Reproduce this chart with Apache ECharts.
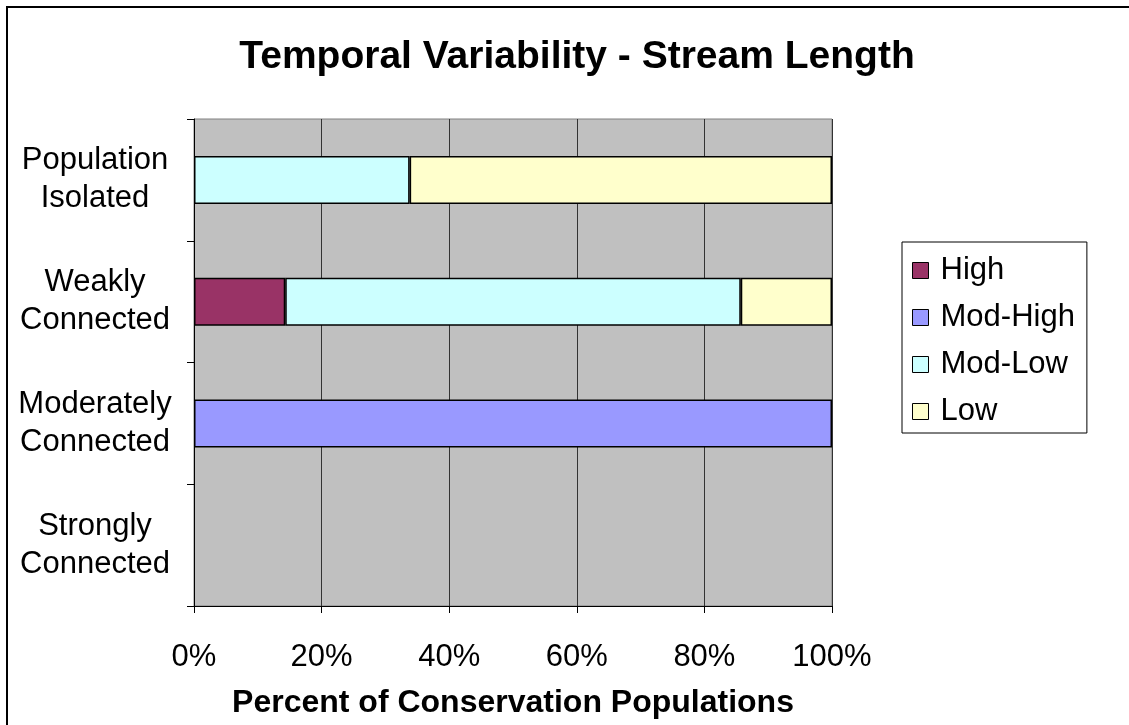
<!DOCTYPE html>
<html>
<head>
<meta charset="utf-8">
<script src="https://cdn.jsdelivr.net/npm/echarts@6/dist/echarts.min.js"></script>
<style>
  html, body { margin: 0; padding: 0; background: #fff; }
  #chart { width: 1129px; height: 725px; }
</style>
</head>
<body>
<div id="chart"></div>
<script>
  // categories listed bottom to top
  const categories = ['Strongly\nConnected', 'Moderately\nConnected', 'Weakly\nConnected', 'Population\nIsolated'];
  const seriesNames = ['High', 'Mod-High', 'Mod-Low', 'Low'];
  const seriesColors = ['#993366', '#9999FF', '#CCFFFF', '#FFFFCC'];
  const high = ['-', '-', 14.3, '-'];
  const modHigh = ['-', 100, '-', '-'];
  const modLow = ['-', '-', 71.4, 33.8];
  const low = ['-', '-', 14.3, 66.2];
  const xTicks = [0, 20, 40, 60, 80, 100];

  const values = [high, modHigh, modLow, low];
  const font = 'Liberation Sans, Arial, sans-serif';

  const myChart = echarts.init(document.getElementById('chart'));

  const option = {
    animation: false,
    backgroundColor: '#fff',
    textStyle: { fontFamily: font, color: '#000' },
    title: {
      text: 'Temporal Variability - Stream Length',
      left: 572,
      textAlign: 'center',
      top: 33,
      textStyle: { fontFamily: font, fontSize: 39, fontWeight: 'bold', color: '#000' }
    },
    legend: {
      data: seriesNames,
      orient: 'vertical',
      left: 902,
      top: 242,
      itemWidth: 16,
      itemHeight: 16,
      itemGap: 16,
      padding: [13, 12, 6, 10],
      borderColor: '#000',
      borderWidth: 1,
      icon: 'rect',
      selectedMode: false,
      itemStyle: { borderColor: '#000', borderWidth: 1 },
      textStyle: { fontFamily: font, fontSize: 31, color: '#000', padding: [0, 0, 0, 7] }
    },
    grid: {
      left: 194,
      right: 297,
      top: 119,
      bottom: 119,
      outerBoundsMode: 'none',
      containLabel: false,
      show: true,
      backgroundColor: '#C0C0C0',
      borderColor: '#808080',
      borderWidth: 1
    },
    xAxis: {
      type: 'value',
      min: 0,
      max: 100,
      interval: 20,
      name: 'Percent of Conservation Populations',
      nameLocation: 'middle',
      nameGap: 81,
      nameTextStyle: { fontFamily: font, fontSize: 32, fontWeight: 'bold', color: '#000' },
      axisLine: { show: true, lineStyle: { color: '#000', width: 1 } },
      axisTick: { show: true, length: 7, lineStyle: { color: '#000' } },
      axisLabel: {
        fontFamily: font, fontSize: 31, color: '#000', margin: 36,
        formatter: v => xTicks.includes(v) ? v + '%' : ''
      },
      splitLine: { show: true, lineStyle: { color: '#333', width: 1 } }
    },
    yAxis: {
      type: 'category',
      data: categories,
      axisLine: { show: true, lineStyle: { color: '#000', width: 1 } },
      axisTick: { show: true, length: 7, lineStyle: { color: '#000' } },
      axisLabel: {
        fontFamily: font, fontSize: 31, color: '#000', margin: 99,
        align: 'center', lineHeight: 38, padding: [6, 0, 0, 0]
      },
      splitLine: { show: false }
    },
    series: seriesNames.map((name, i) => ({
      name: name,
      type: 'bar',
      stack: 'total',
      barWidth: 48,
      data: values[i],
      itemStyle: { color: seriesColors[i], borderColor: '#000', borderWidth: 1.5 }
    })),
    graphic: [{
      type: 'rect',
      shape: { x: 7, y: 7, width: 1300, height: 900 },
      style: { fill: 'none', stroke: '#000', lineWidth: 2 },
      silent: true
    }]
  };

  myChart.setOption(option);
</script>
</body>
</html>
